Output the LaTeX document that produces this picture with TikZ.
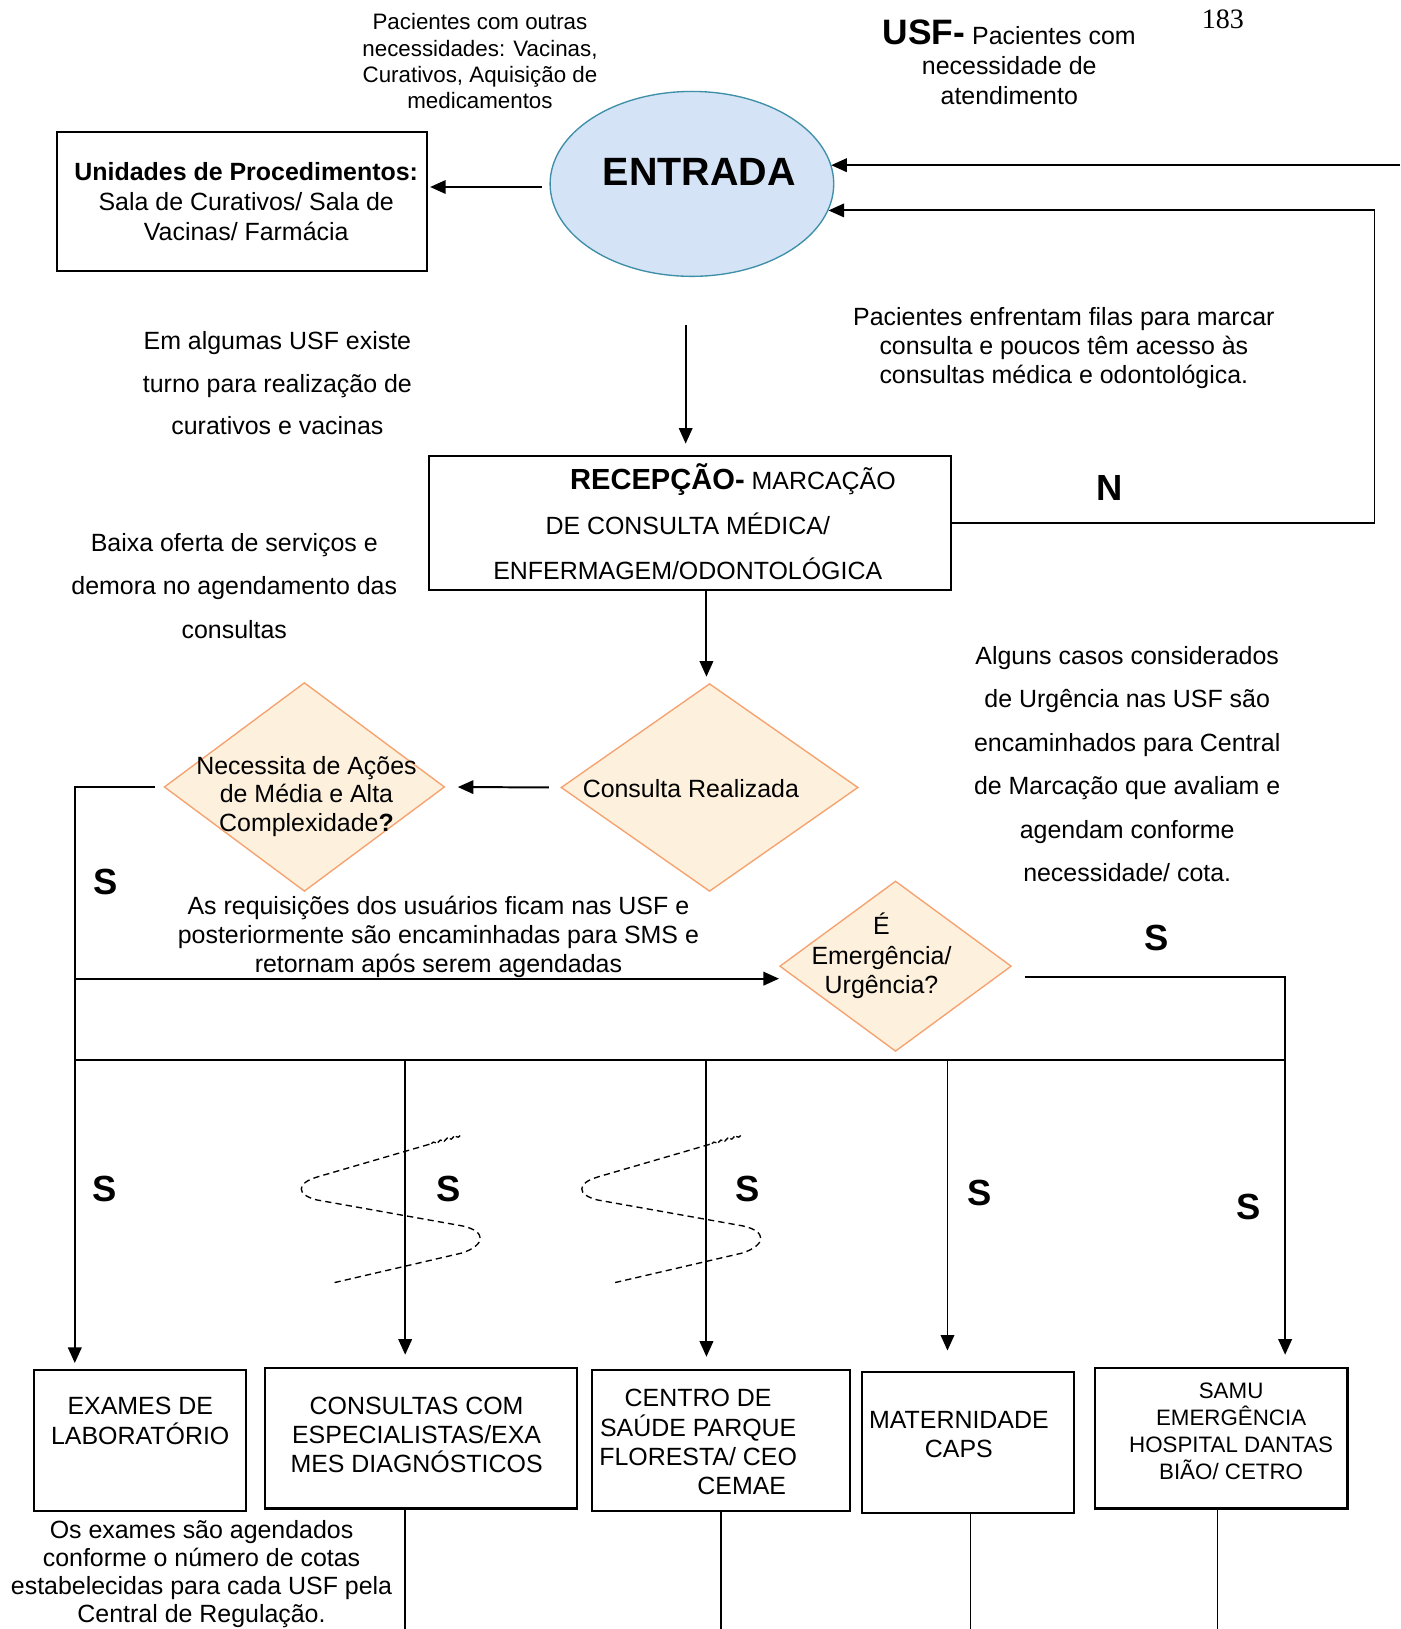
\documentclass[tikz,border=0pt]{standalone}
\usepackage{fontspec}
\setmainfont{Liberation Sans}
\newfontfamily\timesfont{Liberation Serif}
\usetikzlibrary{shapes.geometric,arrows.meta,calc,decorations.pathmorphing}
\newcommand{\fsz}[2]{\fontsize{#1}{#2}\selectfont}
\definecolor{entF}{HTML}{D4E3F5}
\definecolor{entB}{HTML}{3F8FA8}
\definecolor{diaF}{HTML}{FDF0DC}
\definecolor{diaB}{HTML}{F6A26E}
\begin{document}
\begin{tikzpicture}[x=1pt,y=-1pt,line width=1.9pt,
  arr/.style={-{Triangle[length=15pt,width=13pt]}},
  box/.style={draw,line width=2pt,inner sep=0pt},
  dia/.style={diamond,draw=diaB,fill=diaF,line width=1.3pt,inner sep=0pt},
  txt/.style={inner sep=0pt,align=center,font=\fsz{24}{28}},
  lab/.style={inner sep=0pt,font=\bfseries\fsz{35}{35}},
  brk/.style={dash pattern=on 6pt off 4pt,line width=1.3pt}]
\fill[white] (0,0) rectangle (1348,1568);
\useasboundingbox (0,0) rectangle (1348,1568);

% ---- top notes
\node[txt,font=\fsz{21.5}{25.3}] (n1) at (462,59) {Pacientes com outras\\necessidades: Vacinas,\\Curativos, Aquisição de\\medicamentos};
\node[txt,font=\fsz{24}{28.5}] (usf) at (971.5,60) {{\fsz{34}{34}\bfseries USF-} Pacientes com\\necessidade de\\atendimento};
\node[inner sep=0pt,font=\timesfont\fsz{27}{27}] (pg) at (1177,19) {183};

% ---- ENTRADA
\node[ellipse,draw=entB,fill=entF,line width=1.3pt,minimum width=273pt,minimum height=178pt,inner sep=0pt] (ent) at (666,177) {};
\node[inner sep=0pt,font=\bfseries\fsz{38}{40}] (entT) at (673,165) {ENTRADA};

% ---- Unidades
\node[box,minimum width=356pt,minimum height=134pt] (unid) at (233,194) {};
\node[txt,font=\fsz{24}{28.5}] (unidT) at (237,194) {\textbf{Unidades de Procedimentos:}\\Sala de Curativos/ Sala de\\Vacinas/ Farmácia};

% ---- side notes
\node[txt,font=\fsz{24}{41}] (n2) at (267,369) {Em algumas USF existe\\turno para realização de\\curativos e vacinas};
\node[txt,font=\fsz{24}{28}] (n3) at (1024,335) {Pacientes enfrentam filas para marcar\\consulta e poucos têm acesso às\\consultas médica e odontológica.};
\node[txt,font=\fsz{24}{42}] (n4) at (225.5,564) {Baixa oferta de serviços e\\demora no agendamento das\\consultas};
\node[txt,font=\fsz{24}{41.8}] (n5) at (1085,735.5) {Alguns casos considerados\\de Urgência nas USF são\\encaminhados para Central\\de Marcação que avaliam e\\agendam conforme\\necessidade/ cota.};
\node[txt,font=\fsz{24}{28}] (n6) at (422,902) {As requisições dos usuários ficam nas USF e\\posteriormente são encaminhadas para SMS e\\retornam após serem agendadas};
\node[txt,font=\fsz{24}{27}] (n7) at (194,1515) {Os exames são agendados\\conforme o número de cotas\\estabelecidas para cada USF pela\\Central de Regulação.};

% ---- RECEPCAO
\node[box,minimum width=502pt,minimum height=129pt] (recep) at (664,503.5) {};
\node[txt,font=\fsz{24}{43}] (recepT) at (662,502) {\hspace*{87pt}{\fsz{28}{43}\bfseries RECEPÇÃO-} MARCAÇÃO\\DE CONSULTA MÉDICA/\\ENFERMAGEM/ODONTOLÓGICA};

% ---- diamonds
\node[dia,minimum width=286pt,minimum height=200pt] (cons) at (683,758) {};
\node[txt] (consT) at (665,759) {Consulta Realizada};
\node[dia,minimum width=270pt,minimum height=201pt] (nec) at (293,757.5) {};
\node[txt,font=\fsz{24}{27.5}] (necT) at (295,766.5) {Necessita de Ações\\de Média e Alta\\Complexidade\textbf{?}};
\node[dia,minimum width=223pt,minimum height=164pt] (eme) at (862,930) {};
\node[txt] (emeT) at (848.5,920) {É\\Emergência/\\Urgência?};

% ---- bottom boxes
\node[box,minimum width=204pt,minimum height=135pt] (exa) at (135,1386.5) {};
\node[txt,font=\fsz{24}{29}] (exaT) at (135,1367.5) {EXAMES DE\\LABORATÓRIO};
\node[box,minimum width=300pt,minimum height=135pt] (cesp) at (405,1384.5) {};
\node[txt] (cespT) at (401,1381) {CONSULTAS COM\\ESPECIALISTAS/EXA\\MES DIAGNÓSTICOS};
\node[box,minimum width=248pt,minimum height=135pt] (cent) at (694,1386.5) {};
\node[txt] (centT) at (672,1388) {CENTRO DE\\SAÚDE PARQUE\\FLORESTA/ CEO\\\hspace*{84pt}CEMAE};
\node[box,minimum width=204pt,minimum height=135pt] (mat) at (932,1388.5) {};
\node[txt] (matT) at (923,1381) {MATERNIDADE\\CAPS};
\node[box,minimum width=243pt,minimum height=135pt] (samu) at (1175.5,1384.5) {};
\node[txt,font=\fsz{21.5}{26}] (samuT) at (1185,1378) {SAMU\\EMERGÊNCIA\\HOSPITAL DANTAS\\BIÃO/ CETRO};

% ---- letters
\node[lab] (N1) at (1068,470) {N};
\node[lab] (S1) at (102,849) {S};
\node[lab] (S2) at (1113,903) {S};
\node[lab] (S3) at (101,1144) {S};
\node[lab] (S4) at (432,1144) {S};
\node[lab] (S5) at (720,1144) {S};
\node[lab] (S6) at (943,1148) {S};
\node[lab] (S7) at (1202,1162) {S};

% ---- connectors
\path ([shift={(-7,3)}]ent.west) coordinate (a1);
\draw[arr,shorten >=2pt] (a1) -- (a1 -| unid.east);
\coordinate (rin) at (1348,159);
\draw[arr] (rin) -- (rin -| ent.8);
\draw[arr] (recep.east) -- ++(407,0) |- (ent.-11);
\coordinate (d1) at (660,313);
\draw[arr,shorten >=11pt] (d1) -- (d1 |- recep.north);
\coordinate (r1) at ([xshift=16pt]recep.south);
\draw[arr,shorten >=6pt] (r1) -- (r1 |- cons.north);
\draw[arr,shorten <=11pt,shorten >=12pt] (cons.west) -- (nec.east);
\coordinate (l0) at ([xshift=-8pt]nec.west);
\draw[arr,shorten >=6pt] (l0) -| ([xshift=-63pt]exa.north);
\coordinate (j1) at (72,942);
\draw[arr] (j1) -- (j1 -| eme.west);
\coordinate (e1) at ([shift={(12,10)}]eme.east);
\draw[arr,shorten >=12pt] (e1) -| ([xshift=61.5pt]samu.north);
\coordinate (busL) at (72,1020);
\coordinate (busR) at (1237,1020);
\draw (busL) -- (busR);
\coordinate (b2) at (390,1020);
\coordinate (b3) at (680,1020);
\coordinate (b4) at (912,1020);
\draw[arr,shorten >=12pt] (b2) -- (b2 |- cesp.north);
\draw[arr,shorten >=12pt] (b3) -- (b3 |- cent.north);
\draw[arr,shorten >=20pt] (b4) -- (b4 |- mat.north);
% lines below boxes
\draw[line width=1.6pt] ([xshift=-15pt]cesp.south) -- ++(0,130);
\draw[line width=1.6pt] (cent.south) -- ++(0,130);
\draw[line width=1.6pt] ([xshift=2pt]mat.south) -- ++(0,130);
\draw[line width=1.6pt] ([xshift=-3.5pt]samu.south) -- ++(0,130);

% ---- break marks
\foreach \dx in {0,270}{
  \begin{scope}[shift={(\dx,0)}]
    \draw[brk,dash pattern=on 5pt off 2pt,decorate,decoration={snake,amplitude=1pt,segment length=7pt}] (443,1093) -- (413,1101.5);
    \draw[brk] (413,1101.5) -- (305,1133) .. controls (285,1139) and (285,1150) .. (305,1155) -- (445,1180) .. controls (468,1185) and (468,1198) .. (445,1206) -- (320,1235);
  \end{scope}
}
\end{tikzpicture}
\end{document}
